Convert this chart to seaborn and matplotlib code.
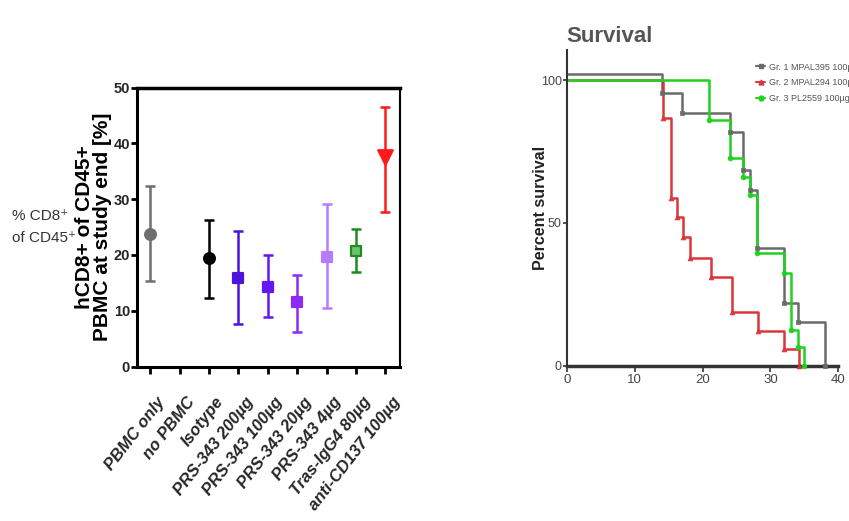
import numpy as np
import pandas as pd
import matplotlib
matplotlib.use("Agg")
import matplotlib.pyplot as plt
import matplotlib.transforms as mtransforms
import seaborn as sns

# ---------------- data: left panel ----------------
categories = ["PBMC only", "no PBMC", "Isotype", "PRS-343 200µg", "PRS-343 100µg",
              "PRS-343 20µg", "PRS-343 4µg", "Tras-IgG4 80µg", "anti-CD137 100µg"]
means = [23.8, None, 19.4, 15.8, 14.3, 11.5, 19.7, 20.7, 37.5]
err_low = [15.4, None, 12.3, 7.6, 8.8, 6.1, 10.4, 16.9, 27.7]
err_high = [32.4, None, 26.3, 24.2, 20.0, 16.4, 29.1, 24.7, 46.5]
point_colors = ["#6f6f6f", None, "#000000", "#4a14d9", "#6418f0", "#8a2cf2", "#b57cff", "#1e8c1e", "#ff1a1a"]
point_faces = ["#6f6f6f", None, "#000000", "#4a14d9", "#6418f0", "#8a2cf2", "#b57cff", "#6fbf6f", "#ff1a1a"]
point_markers = ["o", None, "o", "s", "s", "s", "s", "s", "v"]
y_ticks_left = [0, 10, 20, 30, 40, 50]

# ---------------- data: right panel (survival) ----------------
g1_time = [0, 14.1, 17.0, 24.05, 26.0, 27.0, 28.0, 32.0, 34.0, 38.0]
g1_surv = [102, 95.3, 88.6, 81.9, 68.5, 61.5, 41.3, 21.8, 15.4, 0]
g2_time = [0, 14.2, 15.3, 16.2, 17.2, 18.2, 21.2, 24.3, 28.1, 32.05, 34.2]
g2_surv = [100, 86.6, 58.6, 51.9, 44.9, 37.6, 31.2, 18.9, 12.1, 5.7, 0]
g3_time = [0, 21.0, 24.05, 26.0, 27.0, 28.0, 32.05, 33.0, 34.1, 35.0]
g3_surv = [100, 86.0, 72.6, 66.2, 59.7, 39.6, 32.3, 12.5, 6.4, 0]
group_labels = ["Gr. 1 MPAL395 100µg", "Gr. 2 MPAL294 100µg", "Gr. 3 PL2559 100µg o"]
group_colors = ["#6a6a6a", "#d8363a", "#1fd21f"]
group_markers = ["s", "^", "o"]
x_ticks_right = [0, 10, 20, 30, 40]
y_ticks_right = [0, 50, 100]

sns.set_theme(style="white")
plt.rcParams["font.family"] = ["Liberation Sans", "DejaVu Sans"]

fig = plt.figure(figsize=(8.49, 5.21), dpi=100)
fig.patch.set_facecolor("white")

# ---------------- left panel ----------------
ax1 = fig.add_axes([0.1614, 0.2965, 0.3097, 0.5355])
pos = list(range(len(categories)))
for i in pos:
    if means[i] is None:
        continue
    ax1.errorbar(i, means[i], yerr=[[means[i] - err_low[i]], [err_high[i] - means[i]]],
                 fmt="none", ecolor=point_colors[i], elinewidth=1.8, capsize=3.6, capthick=1.8, zorder=2)
    df = pd.DataFrame({"x": [i], "y": [means[i]]})
    sns.scatterplot(data=df, x="x", y="y", ax=ax1, color=point_faces[i], marker=point_markers[i],
                    s=110 if point_markers[i] == "v" else 60, edgecolor=point_colors[i],
                    linewidth=1.6, zorder=3, legend=False)
ax1.set_xlim(-0.45, 8.5)
ax1.set_ylim(0, 50)
ax1.set_yticks(y_ticks_left)
ax1.set_yticklabels([str(v) for v in y_ticks_left], fontweight="bold", fontsize=10.5)
ax1.set_xticks(pos)
ax1.set_xticklabels(categories, rotation=52, ha="right", rotation_mode="anchor",
                    fontweight="bold", fontstyle="italic", fontsize=12)
ax1.tick_params(axis="y", direction="out", length=4, width=2, color="black", left=True, pad=1)
ax1.tick_params(axis="x", direction="out", length=5, width=2, color="black", bottom=True, pad=15)
shift = mtransforms.ScaledTranslation(6 / 100, 0, fig.dpi_scale_trans)
for lbl in ax1.get_xticklabels():
    lbl.set_transform(lbl.get_transform() + shift)
for sp in ax1.spines.values():
    sp.set_visible(True)
    sp.set_color("black")
ax1.spines["left"].set_linewidth(2.2)
ax1.spines["bottom"].set_linewidth(2.2)
ax1.spines["top"].set_linewidth(2.5)
ax1.spines["right"].set_linewidth(1.5)
ax1.set_xlabel("")
ax1.set_ylabel("hCD8+ of CD45+\nPBMC at study end [%]", fontsize=15, fontweight="bold",
               linespacing=0.92, color="black")
ax1.yaxis.set_label_coords(-0.095, 0.5)

fig.text(0.014, 0.565, "% CD8\u207a\nof CD45\u207a", fontsize=11,
         color="#333333", ha="left", va="center", linespacing=1.75)

# ---------------- right panel ----------------
ax2 = fig.add_axes([0.6675, 0.298, 0.3199, 0.606])
series = [(g1_time, g1_surv), (g2_time, g2_surv), (g3_time, g3_surv)]
handles = []
for (t, s), lab, col, mk in zip(series, group_labels, group_colors, group_markers):
    df = pd.DataFrame({"t": t, "s": s})
    sns.lineplot(data=df, x="t", y="s", ax=ax2, color=col, drawstyle="steps-post",
                 estimator=None, sort=False, linewidth=1.8, legend=False)
    sns.scatterplot(data=df.iloc[1:], x="t", y="s", ax=ax2, color=col, marker=mk, s=12,
                    edgecolor=col, linewidth=0.5, legend=False, clip_on=False, zorder=4)
    h, = ax2.plot([], [], color=col, marker=mk, markersize=3.5, linewidth=1.5, label=lab)
    handles.append(h)

ax2.set_xlim(0, 40)
ax2.set_ylim(0, 110.5)
ax2.set_xticks(x_ticks_right)
ax2.set_yticks(y_ticks_right)
ax2.set_xticklabels([str(v) for v in x_ticks_right], fontsize=9.5, color="#444444")
ax2.set_yticklabels([str(v) for v in y_ticks_right], fontsize=9, color="#444444")
ax2.tick_params(axis="x", direction="out", length=4, width=1.2, color="#333333", bottom=True, pad=2)
ax2.tick_params(axis="y", direction="out", length=3, width=1.2, color="#333333", left=True, pad=0.5)
ax2.spines["top"].set_visible(False)
ax2.spines["right"].set_visible(False)
ax2.spines["left"].set_color("#333333")
ax2.spines["left"].set_linewidth(1.5)
ax2.spines["bottom"].set_color("#333333")
ax2.spines["bottom"].set_linewidth(2.5)
ax2.set_xlabel("")
ax2.set_ylabel("Percent survival", fontsize=11.5, fontweight="bold", color="#222222")
ax2.yaxis.set_label_coords(-0.07, 0.5)

fig.text(0.6665, 0.93, "Survival", fontsize=16, fontweight="bold",
         color="#555555", ha="left", va="center")

leg = fig.legend(handles=handles, loc="upper left", bbox_to_anchor=(0.891, 0.88),
                 frameon=False, handlelength=1.0, handletextpad=0.4, labelspacing=0.75,
                 prop={"size": 6.5}, borderaxespad=0, borderpad=0)
for txt in leg.get_texts():
    txt.set_color("#555555")

fig.savefig("out.png", dpi=100, facecolor="white")
